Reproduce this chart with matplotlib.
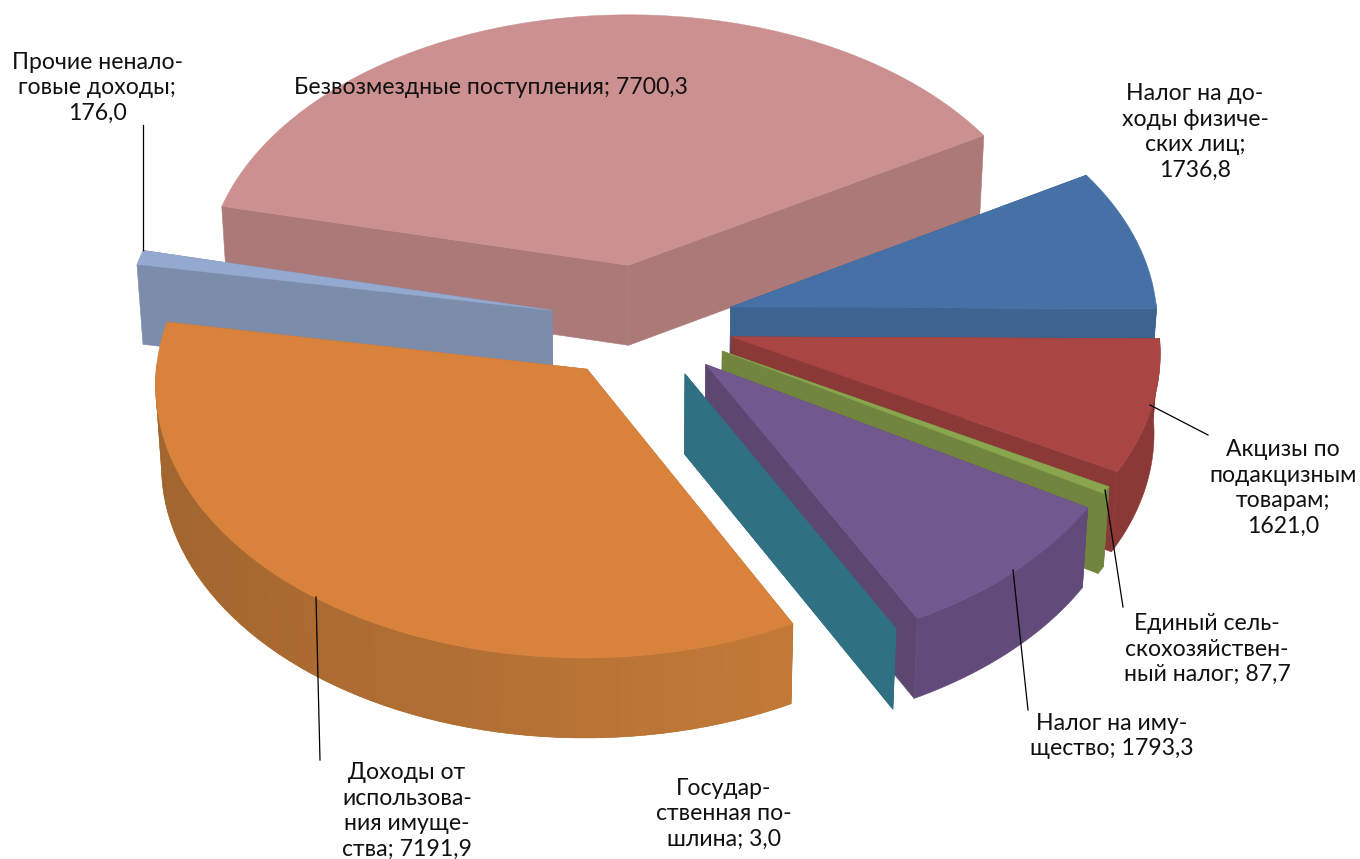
import numpy as np
import matplotlib
matplotlib.use("Agg")
import matplotlib.pyplot as plt
from matplotlib.patches import Polygon

# ---- data ----
names = ["Налог на до-\nходы физиче-\nских лиц;", "Акцизы по\nподакцизным\nтоварам;",
         "Единый сель-\nскохозяйствен-\nный налог;", "Налог на иму-\nщество;",
         "Государ-\nственная по-\nшлина;", "Доходы от\nиспользова-\nния имуще-\nства;",
         "Прочие ненало-\nговые доходы;", "Безвозмездные поступления;"]
values = [1736.8, 1621.0, 87.7, 1793.3, 3.0, 7191.9, 176.0, 7700.3]
label_breaks = ["\n", "\n", " ", " ", " ", " ", "\n", " "]

# ---- style ----
top_colors = ["#4571A6", "#A94543", "#89A54E", "#71588F", "#2F7183", "#D9823C", "#93A9CF", "#CC9090"]
wall_colors = ["#3E6390", "#8A3937", "#71853F", "#5B476F", "#2F7083", "#B8733A", "#7C8DAC", "#AB7A78"]
rim_colors = ["#3E6390", "#8A3937", "#71853F", "#624B7B", "#2F7083", "#B87335", "#7C8DAC", "#AF7F7E"]
draw_order = [7, 6, 0, 1, 2, 3, 4, 5]
label_xy = [(1195, 132), (1283, 488), (1207, 649), (1112, 736), (724, 814), (407, 811), (97, 88), (491, 88)]
leaders = [None, ((1150, 405), (1208, 435)), ((1105, 490), (1123, 607)), ((1013, 570), (1028, 710)),
           None, ((316, 597), (320, 760)), ((143, 125), (143, 250)), None]

CX, CY, R, EXPL, TILT, PERSP, DEPTH, SHRINK = 642, 322, 427, 92, 0.63, 1.2e-4, 80, 1.5e-4
START = 30.4


def proj(X, Y, z=0.0):
    s = 1.0 / (1.0 + PERSP * Y)
    return CX + X * s * (1 - SHRINK * z), CY - TILT * Y * s + z


def shade(col, f):
    c = np.array(matplotlib.colors.to_rgb(col))
    return tuple(np.clip(c * f, 0, 1))


fig = plt.figure(figsize=(13.6, 8.59), dpi=100)
ax = fig.add_axes([0, 0, 1, 1])
ax.set_xlim(0, 1360)
ax.set_ylim(859, 0)
ax.axis("off")

total = sum(values)
edges = START - np.cumsum([0] + values) / total * 360.0


def add(poly, color, lw=0.4):
    ax.add_patch(Polygon(poly, closed=True, fc=color, ec=color, lw=lw, zorder=1))


for i in draw_order:
    a0, a1 = np.radians(edges[i]), np.radians(edges[i + 1])
    mid = (a0 + a1) / 2
    ox, oy = EXPL * np.cos(mid), EXPL * np.sin(mid)
    th = np.linspace(a0, a1, max(int(abs(a1 - a0) * 90), 3))
    X, Y = ox + R * np.cos(th), oy + R * np.sin(th)
    # radial walls
    for ex, ey in ((X[0], Y[0]), (X[-1], Y[-1])):
        add([proj(ox, oy), proj(ex, ey), proj(ex, ey, DEPTH), proj(ox, oy, DEPTH)], wall_colors[i])
    # outer wall: front-facing part of the rim
    front = np.sin(th) < 0.02
    if front.sum() > 1:
        xs, ys = X[front], Y[front]
        upper = [proj(x, y) for x, y in zip(xs, ys)]
        lower = [proj(x, y, DEPTH) for x, y in zip(xs, ys)]
        add(upper + lower[::-1], rim_colors[i])
        if i == 5:  # gentle lengthwise shading of the large slice
            ts = th[front]
            for k in range(0, len(ts) - 4, 3):
                f = 1.0 + 0.12 * np.cos(ts[k + 1])
                j = k + 4
                ax.add_patch(Polygon([upper[k], upper[j], lower[j], lower[k]], closed=True,
                                     fc=shade(rim_colors[i], f), ec="none", zorder=1))
    # top face
    add([proj(ox, oy)] + [proj(x, y) for x, y in zip(X, Y)], top_colors[i], lw=0.3)

for seg in leaders:
    if seg:
        ax.plot([seg[0][0], seg[1][0]], [seg[0][1], seg[1][1]], color="black", lw=0.9, zorder=3)

for name, val, brk, (x, y) in zip(names, values, label_breaks, label_xy):
    txt = f"{name}{brk}{val:.1f}".replace(".", ",")
    ax.text(x, y, txt, ha="center", va="center", multialignment="center", fontsize=16.6,
            family=["Lato", "Open Sans", "DejaVu Sans"], color="#111111", linespacing=1.27, zorder=4)

fig.savefig("out.png", dpi=100, facecolor="white")
